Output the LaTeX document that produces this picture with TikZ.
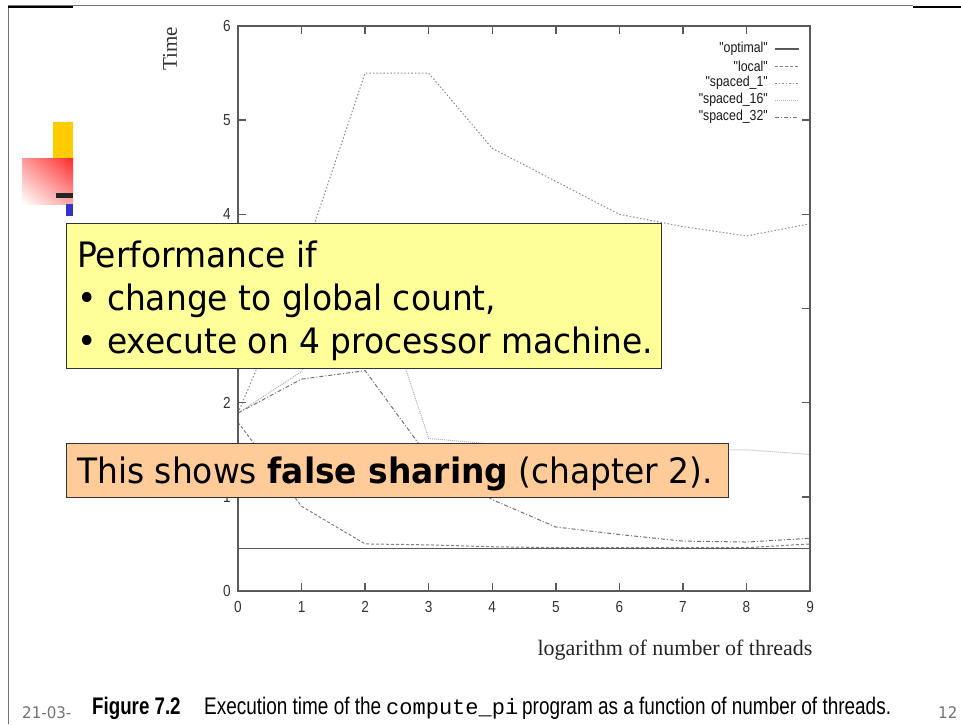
\documentclass[tikz,border=0pt]{standalone}
\usepackage{fontspec}
\usetikzlibrary{shadings}
\setmainfont{Liberation Serif}
\newfontfamily\tahfont[FakeStretch=0.94]{DejaVu Sans}
\newfontfamily\narrowfont[FakeStretch=0.85]{Liberation Sans}
\newfontfamily\capfont[FakeStretch=0.79]{Liberation Sans}
\newfontfamily\capbold[FakeStretch=0.78]{Liberation Sans}
\newfontfamily\monofont{Liberation Mono}
\newfontfamily\timesfont{Liberation Serif}
\definecolor{boxyellow}{HTML}{FFFF99}
\definecolor{boxorange}{HTML}{FFCC99}
\definecolor{decoyellow}{HTML}{FFCC00}
\definecolor{decored}{HTML}{FF2A2A}
\definecolor{decoblue}{HTML}{3333CC}
\definecolor{axisgray}{HTML}{5A5A5A}
\tikzset{
  axisline/.style={draw=axisgray, line width=1.6pt},
  tickline/.style={draw=axisgray, line width=1.4pt},
  optimalline/.style={draw=black!65, line width=1.2pt},
  localline/.style={draw=black!50, line width=1pt, dash pattern=on 3pt off 2pt},
  sponeline/.style={draw=black!45, line width=1pt, dash pattern=on 1.5pt off 2pt},
  spsixteenline/.style={draw=black!30, line width=1pt, dash pattern=on 1pt off 1pt},
  spthirtytwoline/.style={draw=black!55, line width=1pt, dash pattern=on 4pt off 2pt on 1pt off 2pt},
  ticklabel/.style={font=\narrowfont\fontsize{16pt}{18pt}\selectfont, text=black!80, inner sep=0pt},
  legendlabel/.style={font=\narrowfont\fontsize{14.5pt}{16pt}\selectfont, text=black!90, inner sep=0pt, anchor=east},
  notebox/.style={draw=black!80, line width=0.9pt, inner sep=0pt, anchor=north west},
  notetext/.style={font=\tahfont\fontsize{35pt}{43pt}\selectfont, inner sep=0pt, anchor=base west},
  captext/.style={inner sep=0pt, anchor=base west},
}
\begin{document}
\begin{tikzpicture}[x=1pt,y=-1pt]
\useasboundingbox (0,0) rectangle (961,724);
\fill[white] (0,0) rectangle (961,724);
% slide decorations
\fill[decoyellow] (53,122) rectangle (73,158);
\shade[upper left=red!40!white, upper right=decored, lower left=white, lower right=red!35!white] (22,158) rectangle (73,204);
\fill[black!85] (56,193) rectangle (73,198);
\fill[decoblue] (66,204) rectangle (73,216);
% slide frame
\draw[black!55, line width=1pt] (8,724) -- (8,5) -- (913,5);
\draw[black, line width=2pt] (8,6.5) -- (73,6.5);
\draw[black, line width=2pt] (913,6.5) -- (961,6.5);
% plot
\begin{scope}[shift={(238pt,-591pt)}, x=63.56pt, y=94.17pt]
  \draw[optimalline] plot coordinates {(0,0.45) (9,0.45)};
  \draw[localline] plot coordinates {(0,1.79) (1,0.9) (2,0.5) (3,0.49) (4,0.47) (5,0.46) (6,0.46) (7,0.46) (8,0.46) (9,0.5)};
  \draw[sponeline] plot coordinates {(0,1.89) (1,3.49) (2,5.5) (3,5.5) (4,4.7) (5,4.35) (6,4.0) (7,3.87) (8,3.77) (9,3.9)};
  \draw[spsixteenline] plot coordinates {(0,1.89) (1,2.33) (2,3.66) (3,1.62) (4,1.56) (5,1.54) (6,1.52) (7,1.5) (8,1.5) (9,1.45)};
  \draw[spthirtytwoline] plot coordinates {(0,1.89) (1,2.25) (2,2.34) (3,1.42) (4,0.97) (5,0.68) (6,0.6) (7,0.53) (8,0.52) (9,0.56)};
  \draw[axisline] (0,0) rectangle (9,6);
  \foreach \i in {1,...,8} {
    \draw[tickline] (\i,0) -- ++(0,8pt);
    \draw[tickline] (\i,6) -- ++(0,-8pt);
  }
  \foreach \j in {1,...,5} {
    \draw[tickline] (0,\j) -- ++(8pt,0);
    \draw[tickline] (9,\j) -- ++(-8pt,0);
  }
  \foreach \i in {0,...,9} {
    \node[ticklabel, yshift=-16pt] (xl\i) at (\i,0) {\i};
  }
  \foreach \j in {0,1,2,4,5,6} {
    \node[ticklabel, anchor=east, xshift=-7pt] (yl\j) at (0,\j) {\j};
  }
\end{scope}
% legend
\node[legendlabel] (lg1) at (768,49) {"optimal"};
\node[legendlabel] (lg2) at (768,66) {"local"};
\node[legendlabel] (lg3) at (768,83) {"spaced\_1"};
\node[legendlabel] (lg4) at (768,100) {"spaced\_16"};
\node[legendlabel] (lg5) at (768,117) {"spaced\_32"};
\draw[optimalline] (775,49) -- (799,49);
\draw[localline] (775,66) -- (799,66);
\draw[sponeline] (775,83) -- (799,83);
\draw[spsixteenline] (775,100) -- (799,100);
\draw[spthirtytwoline] (775,117) -- (799,117);
% axis titles
\node[font=\timesfont\fontsize{21pt}{24pt}\selectfont, rotate=90, inner sep=0pt, text=black!80] (ytitle) at (170,49) {Time};
\node[font=\timesfont\fontsize{22pt}{24pt}\selectfont, inner sep=0pt, anchor=base, text=black!85] (xtitle) at (675,655) {logarithm of number of threads};
% caption
\node[captext, font=\capbold\bfseries\fontsize{24pt}{26pt}\selectfont] (capA) at (92,714) {Figure 7.2};
\node[captext, font=\capfont\fontsize{24pt}{26pt}\selectfont] (capB) at (204,714) {Execution time of the};
\node[captext, font=\monofont\fontsize{22pt}{24pt}\selectfont] (capC) at (386,714) {compute\_pi};
\node[captext, font=\capfont\fontsize{24pt}{26pt}\selectfont] (capD) at (522,714) {program as a function of number of threads.};
% footer
\node[font=\tahfont\fontsize{16pt}{18pt}\selectfont, text=black!55, inner sep=0pt, anchor=base west] (date) at (22,718) {21-03-};
\node[font=\tahfont\fontsize{16pt}{18pt}\selectfont, text=black!55, inner sep=0pt, anchor=base west] (pageno) at (938,718) {12};
% note boxes
\node[notebox, fill=boxyellow, minimum width=595pt, minimum height=145pt] (perfbox) at (66,223) {};
\node[notetext] (perf1) at (77,267) {Performance if};
\node[notetext] (perf2) at (77,310) {• change to global count,};
\node[notetext] (perf3) at (77,353) {• execute on 4 processor machine.};
\node[notebox, fill=boxorange, minimum width=662pt, minimum height=54pt] (sharebox) at (66,443) {};
\node[notetext] (share1) at (77,483) {This shows \textbf{false sharing} (chapter 2).};
\end{tikzpicture}
\end{document}
